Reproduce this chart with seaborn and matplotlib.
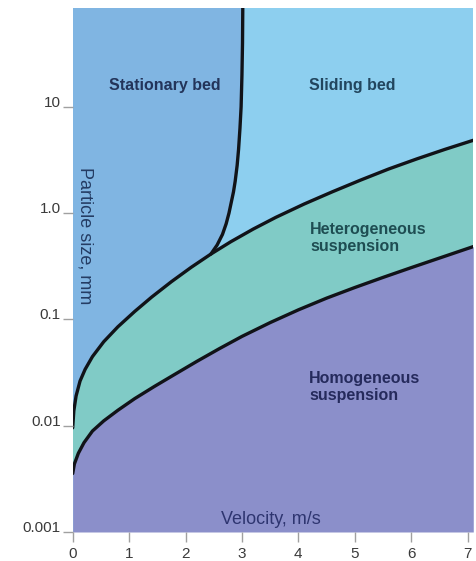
import numpy as np
import matplotlib
matplotlib.use("Agg")
import matplotlib.pyplot as plt
import seaborn as sns

# Flow-regime boundaries for slurry transport in a pipe (velocity m/s, size mm)
# lower boundary: homogeneous / heterogeneous suspension
v_homog = [0.0, 0.03, 0.1, 0.2, 0.35, 0.55, 0.8, 1.1, 1.45, 1.8, 2.2, 2.6,
           3.0, 3.5, 4.0, 4.5, 5.0, 5.5, 6.0, 6.5, 7.1]
d_homog = [0.00355, 0.00437, 0.0055, 0.00692, 0.00891, 0.0111, 0.01396,
           0.01799, 0.02344, 0.0302, 0.04027, 0.05309, 0.06918, 0.09333,
           0.123, 0.1585, 0.1995, 0.2483, 0.3069, 0.3776, 0.4842]

# upper boundary: heterogeneous suspension / bed
v_hetero = [0.0, 0.02, 0.06, 0.13, 0.22, 0.35, 0.55, 0.8, 1.1, 1.4, 1.75,
            2.1, 2.45, 2.8, 3.2, 3.6, 4.1, 4.6, 5.1, 5.6, 6.1, 6.6, 7.1]
d_hetero = [0.00955, 0.0138, 0.01905, 0.0263, 0.03388, 0.04467, 0.06166,
            0.08511, 0.1189, 0.1622, 0.2265, 0.309, 0.4121, 0.537, 0.7079,
            0.912, 1.216, 1.585, 2.042, 2.6, 3.236, 3.981, 4.842]

# stationary bed / sliding bed boundary, rising from the junction point
v_bed = [2.45, 2.56, 2.655, 2.72, 2.77, 2.81, 2.85, 2.88, 2.915, 2.94,
         2.965, 2.985, 3.0, 3.01, 3.015]
d_bed = [0.4121, 0.501, 0.631, 0.794, 1.0, 1.259, 1.585, 1.995, 2.818,
         3.981, 6.31, 10.0, 19.95, 39.8, 89.1]

x_ticks = [0, 1, 2, 3, 4, 5, 6, 7]
y_ticks = [0.001, 0.01, 0.1, 1.0, 10.0]
y_tick_labels = ["0.001", "0.01", "0.1", "1.0", "10"]

regions = ["Stationary bed", "Sliding bed", "Heterogeneous\nsuspension",
           "Homogeneous\nsuspension"]

c_stationary = "#80b5e2"
c_sliding = "#8dcfef"
c_hetero = "#80cbc6"
c_homog = "#8b8fca"

sns.set_theme(style="white")
plt.rcParams["font.family"] = ["Liberation Sans", "DejaVu Sans"]

fig = plt.figure(figsize=(4.77, 5.61), dpi=100)
ax = fig.add_axes([0.1524, 0.0517, 0.8386, 0.934])
ax.set_axisbelow(False)

y_min, y_max = 0.001, 85.0
x_min, x_max = 0.0, 7.09
ax.set_yscale("log")
ax.set_xlim(x_min, x_max)
ax.set_ylim(y_min, y_max)
ax.set_facecolor(c_sliding)

# homogeneous suspension below the lower boundary
ax.fill_between(v_homog, y_min, d_homog, color=c_homog, lw=0, zorder=1)

# heterogeneous suspension between the two boundaries
poly_v = list(v_homog) + list(v_hetero[::-1])
poly_d = list(d_homog) + list(d_hetero[::-1])
ax.fill(poly_v, poly_d, color=c_hetero, lw=0, zorder=1)

# stationary bed: above the upper boundary, left of the bed boundary
junction = v_hetero.index(v_bed[0])
st_v = list(v_hetero[:junction + 1]) + list(v_bed[1:]) + [0.0]
st_d = list(d_hetero[:junction + 1]) + list(d_bed[1:]) + [d_bed[-1]]
ax.fill(st_v, st_d, color=c_stationary, lw=0, zorder=1)

line_kw = dict(color="#111318", linewidth=2.4, ax=ax, sort=False, zorder=3)
sns.lineplot(x=v_homog, y=d_homog, **line_kw)
sns.lineplot(x=v_hetero, y=d_hetero, **line_kw)
sns.lineplot(x=v_bed, y=d_bed, **line_kw)
for ln in ax.lines:
    ln.set_solid_joinstyle("round")
    ln.set_solid_capstyle("round")

for s in ax.spines.values():
    s.set_visible(False)

ax.set_xticks(x_ticks)
ax.set_xticklabels([str(t) for t in x_ticks])
ax.set_yticks(y_ticks)
ax.set_yticklabels(y_tick_labels)
ax.minorticks_off()
ax.tick_params(axis="both", which="major", length=7.5, width=1.0,
               color="#a0a0a0", labelcolor="#3a3a3a", labelsize=11,
               bottom=True, left=True)
ax.tick_params(axis="x", pad=3.5)
ax.tick_params(axis="y", pad=1)
for lab in ax.get_yticklabels():
    lab.set_verticalalignment("baseline")

ax.set_xlabel("Velocity, m/s", fontsize=13, color="#2e3570")
ax.xaxis.set_label_coords(0.495, 0.04)
ax.set_ylabel("Particle size, mm", fontsize=13, color="#243c63",
              rotation=270, va="center", ha="center")
ax.yaxis.set_label_coords(0.032, 0.565)
ax.xaxis.set_zorder(5)
ax.yaxis.set_zorder(5)

txt = dict(fontsize=11.5, fontweight="bold", zorder=4)
ax.text(1.63, 15.8, regions[0], ha="center", va="center", color="#23345a", **txt)
ax.text(4.95, 15.8, regions[1], ha="center", va="center", color="#22465e", **txt)
ax.text(4.21, 0.585, regions[2], ha="left", va="center", color="#1e4d52",
        linespacing=1.15, **txt)
ax.text(4.195, 0.0233, regions[3], ha="left", va="center", color="#252a5c",
        linespacing=1.15, **txt)

fig.savefig("out.png", dpi=100, facecolor="white")
